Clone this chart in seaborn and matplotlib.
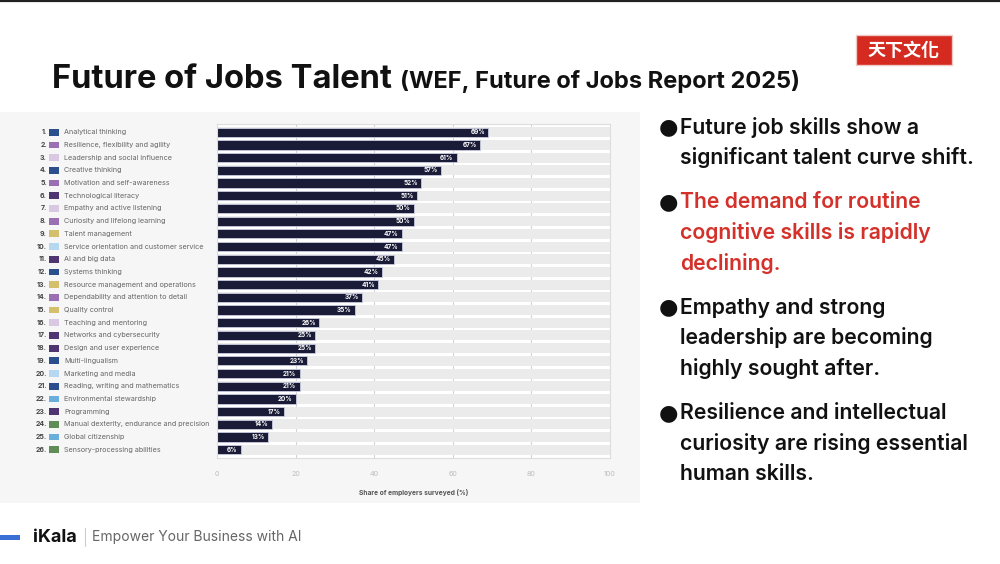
import matplotlib
matplotlib.use("Agg")
import matplotlib.pyplot as plt
import seaborn as sns
import pandas as pd
from matplotlib.patches import Rectangle
from matplotlib.lines import Line2D
import matplotlib.transforms as mtransforms

skills = [
    "Analytical thinking", "Resilience, flexibility and agility", "Leadership and social influence",
    "Creative thinking", "Motivation and self-awareness", "Technological literacy",
    "Empathy and active listening", "Curiosity and lifelong learning", "Talent management",
    "Service orientation and customer service", "AI and big data", "Systems thinking",
    "Resource management and operations", "Dependability and attention to detail", "Quality control",
    "Teaching and mentoring", "Networks and cybersecurity", "Design and user experience",
    "Multi-lingualism", "Marketing and media", "Reading, writing and mathematics",
    "Environmental stewardship", "Programming", "Manual dexterity, endurance and precision",
    "Global citizenship", "Sensory-processing abilities",
]
shares = [69, 67, 61, 57, 52, 51, 50, 50, 47, 47, 45, 42, 41, 37, 35, 26, 25, 25, 23, 21, 21, 20, 17, 14, 13, 6]
groups = ["cog", "self", "work", "cog", "self", "tech", "work", "self", "mgmt", "engage",
          "tech", "cog", "mgmt", "self", "mgmt", "work", "tech", "tech", "lit", "engage",
          "lit", "env", "tech", "phys", "env", "phys"]
group_colors = {"cog": "#2b4f8c", "self": "#9a6fb3", "work": "#d8c8e2", "tech": "#4e3470",
                "mgmt": "#d4c06c", "engage": "#b5d8f0", "lit": "#2b4f8c", "env": "#6aaede",
                "phys": "#5f8c57"}
xticks = [0, 20, 40, 60, 80, 100]
xlabel = "Share of employers surveyed (%)"

title_main = "Future of Jobs Talent"
title_sub = "(WEF, Future of Jobs Report 2025)"
bullets = [
    (["Future job skills show a", "significant talent curve shift."], "#111111"),
    (["The demand for routine", "cognitive skills is rapidly", "declining."], "#d3312a"),
    (["Empathy and strong", "leadership are becoming", "highly sought after."], "#111111"),
    (["Resilience and intellectual", "curiosity are rising essential", "human skills."], "#111111"),
]

sns.set_theme(style="white")
plt.rcParams['font.family'] = ['Inter', 'DejaVu Sans']

W, H = 1000, 564
fig = plt.figure(figsize=(10, 5.64), dpi=100)
fig.patch.set_facecolor("white")

def fx(px):
    return px / W

def fy(py):
    return 1 - py / H

# top dark line
fig.add_artist(Line2D([0, 1], [fy(1), fy(1)], transform=fig.transFigure, color="#222222", lw=1.6))

# chart panel
fig.add_artist(Rectangle((fx(0), fy(503)), fx(640), (503 - 112) / H, transform=fig.transFigure,
                         facecolor="#f6f6f6", edgecolor="none", zorder=0))

ax = fig.add_axes([fx(217), fy(458), fx(610) - fx(217), (458 - 124) / H])
ax.set_facecolor("white")

df = pd.DataFrame({"skill": skills, "share": shares})
n = len(skills)
# background tracks
ax.barh(range(n), [xticks[-1]] * n, height=0.78, color="#ebebeb", edgecolor="none", zorder=1)
for xv in xticks[1:-1]:
    ax.axvline(xv, color="#d4d4d4", lw=0.8, zorder=1.5)

sns.barplot(data=df, x="share", y="skill", orient="h", color="#15173b", width=0.72,
            edgecolor="#c9cbe0", linewidth=0.6, ax=ax, zorder=2)
for p in ax.patches:
    p.set_zorder(2)

for i, v in enumerate(shares):
    ax.text(v - 0.8, i, f"{v}%", ha="right", va="center", color="white", fontsize=4.6,
            fontweight="bold", zorder=3)

ax.set_xlim(0, 100)
ax.set_ylim(n - 0.35, -0.65)
ax.set_xticks(xticks)
ax.set_xticklabels([str(t) for t in xticks], color="#bdbdbd", fontsize=5.2)
ax.tick_params(axis="x", length=0, pad=9)
ax.set_yticks([])
ax.set_ylabel("")
ax.set_xlabel(xlabel, fontsize=4.8, color="#555555", fontweight="bold", labelpad=9)
for s in ax.spines.values():
    s.set_color("#dddddd")
    s.set_linewidth(0.8)

# left labels
trans = mtransforms.blended_transform_factory(fig.transFigure, ax.transData)
for i, (name, g) in enumerate(zip(skills, groups)):
    ax.text(fx(47), i, f"{i+1}.", transform=trans, ha="right", va="center", fontsize=5.0,
            color="#444444", fontweight="bold")
    ax.add_artist(Rectangle((fx(49), i - 0.27), fx(10), 0.54, transform=trans,
                            facecolor=group_colors[g], edgecolor="none", clip_on=False))
    ax.text(fx(64), i, name, transform=trans, ha="left", va="center", fontsize=5.2, color="#666666")

# title
fig.text(fx(52), fy(88), title_main, fontsize=23.5, fontweight="bold", color="#111111",
         ha="left", va="baseline")
fig.text(fx(400), fy(88), title_sub, fontsize=17, fontweight="bold", color="#111111",
         ha="left", va="baseline")

# logo
fig.add_artist(Rectangle((fx(856), fy(65)), fx(96), 30 / H, transform=fig.transFigure,
                         facecolor="#d42a20", edgecolor="#f0c8c4", lw=1))
fig.text(fx(904), fy(50), "天下文化", fontsize=13, fontweight="bold", color="white", ha="center",
         va="center", family=["Noto Sans CJK TC", "DejaVu Sans"])

# bullets
y = 127
for lines, col in bullets:
    fig.text(fx(668), fy(y), "●", fontsize=16, color="#111111", ha="center", va="center",
             family=["DejaVu Sans"])
    for ln in lines:
        fig.text(fx(680), fy(y), ln, fontsize=15.3, fontweight="semibold", color=col,
                 ha="left", va="center")
        y += 30.5
    y += 14

# footer
fig.add_artist(Rectangle((0, fy(540)), fx(20), 5 / H, transform=fig.transFigure,
                         facecolor="#3b6fd6", edgecolor="none"))
fig.text(fx(33), fy(537), "iKala", fontsize=13, fontweight="bold", color="#111111", ha="left",
         va="center")
fig.add_artist(Line2D([fx(85), fx(85)], [fy(528), fy(546)], transform=fig.transFigure,
                      color="#cccccc", lw=0.8))
fig.text(fx(92), fy(537), "Empower Your Business with AI", fontsize=10, color="#666666",
         ha="left", va="center")

fig.savefig("out.png", dpi=100, facecolor="white")
